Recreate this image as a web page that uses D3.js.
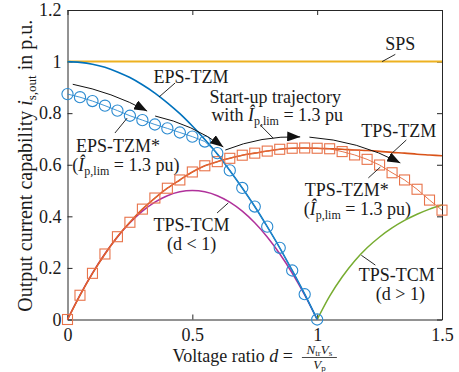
<!DOCTYPE html>
<meta charset="utf-8">
<style>

body {
  margin: 0;
  background: #fff;
}

.chart text {
  font-family: "Liberation Serif", "DejaVu Serif", serif;
  font-size: 18px;
  fill: #1a1a1a;
}

.chart .axis path,
.chart .axis line {
  stroke: #262626;
}

.chart .lead {
  stroke: #111;
  stroke-width: 0.9;
}

</style>
<svg class="chart" width="459" height="372"></svg>
<script src="https://cdn.jsdelivr.net/npm/d3@7/dist/d3.min.js" charset="utf-8"></script>
<script>

// voltage ratio d, grid below and above 1
let dLow = [0, 0.05, 0.1, 0.15, 0.2, 0.25, 0.3, 0.35, 0.4, 0.45, 0.5,
            0.55, 0.6, 0.65, 0.7, 0.75, 0.8, 0.85, 0.9, 0.95, 1];
let dHigh = [1, 1.05, 1.1, 1.15, 1.2, 1.25, 1.3, 1.35, 1.4, 1.45, 1.5];
let dFull = [0, 0.05, 0.1, 0.15, 0.2, 0.25, 0.3, 0.35, 0.4, 0.45, 0.5,
             0.55, 0.6, 0.65, 0.7, 0.75, 0.8, 0.85, 0.9, 0.95, 1,
             1.05, 1.1, 1.15, 1.2, 1.25, 1.3, 1.35, 1.4, 1.45, 1.5];
let dSps = [0, 1.5];

// output current capability in p.u.
let sps = [1, 1];
let epsTzm = [1, 0.997, 0.99, 0.978, 0.96, 0.938, 0.91, 0.878, 0.84, 0.798, 0.75,
              0.698, 0.642, 0.578, 0.51, 0.438, 0.36, 0.278, 0.19, 0.098, 0];
let epsTzmStar = [0.874, 0.862, 0.847, 0.829, 0.81, 0.79, 0.773, 0.756, 0.741, 0.725, 0.709,
                  0.69, 0.645, 0.578, 0.51, 0.438, 0.36, 0.278, 0.19, 0.098, 0];
let tcmBelow = [0, 0.095, 0.18, 0.255, 0.32, 0.375, 0.42, 0.455, 0.48, 0.495, 0.5,
                0.495, 0.48, 0.455, 0.42, 0.375, 0.32, 0.255, 0.18, 0.095, 0];
let tcmAbove = [0, 0.091, 0.165, 0.227, 0.278, 0.32, 0.355, 0.384, 0.408, 0.428, 0.444];
let tpsTzm = [0, 0.094, 0.179, 0.254, 0.321, 0.377, 0.428, 0.471, 0.509, 0.541, 0.572,
              0.596, 0.612, 0.625, 0.637, 0.645, 0.653, 0.66, 0.664, 0.665, 0.664,
              0.662, 0.66, 0.657, 0.655, 0.652, 0.648, 0.645, 0.641, 0.638, 0.635];
let tpsTzmStar = [0, 0.094, 0.179, 0.254, 0.321, 0.377, 0.428, 0.471, 0.509, 0.541, 0.572,
                  0.596, 0.612, 0.625, 0.637, 0.645, 0.653, 0.66, 0.664, 0.665, 0.664,
                  0.662, 0.651, 0.638, 0.621, 0.599, 0.569, 0.541, 0.505, 0.463, 0.424];

let xTicks = [0, 0.5, 1, 1.5];
let yTicks = [0, 0.2, 0.4, 0.6, 0.8, 1, 1.2];

let margin = {top: 10, right: 17, bottom: 52.5, left: 67.5},
    width = 459 - margin.left - margin.right,
    height = 372 - margin.top - margin.bottom;

let x = d3.scaleLinear().domain([0, 1.5]).range([0, width]);
let y = d3.scaleLinear().domain([0, 1.2]).range([height, 0]);

let svg = d3.select(".chart");

svg.append("defs").append("marker")
    .attr("id", "head")
    .attr("viewBox", "0 0 10 10")
    .attr("refX", 10)
    .attr("refY", 5)
    .attr("markerWidth", 13)
    .attr("markerHeight", 10)
    .attr("markerUnits", "userSpaceOnUse")
    .attr("preserveAspectRatio", "none")
    .attr("orient", "auto")
  .append("path")
    .attr("d", "M0,0L10,5L0,10Z")
    .attr("fill", "#111");

let g = svg.append("g")
    .attr("transform", "translate(" + margin.left + "," + margin.top + ")");

// axes, ticks pointing inwards on all four sides
let fmt = d => String(d);

g.append("g").attr("class", "axis")
    .attr("transform", "translate(0," + height + ")")
    .call(d3.axisBottom(x).tickValues(xTicks).tickFormat(fmt)
      .tickSizeInner(-5).tickSizeOuter(0).tickPadding(9));
g.append("g").attr("class", "axis")
    .call(d3.axisTop(x).tickValues(xTicks).tickFormat("")
      .tickSizeInner(-5).tickSizeOuter(0));
g.append("g").attr("class", "axis")
    .call(d3.axisLeft(y).tickValues(yTicks).tickFormat(fmt)
      .tickSizeInner(-5).tickSizeOuter(0).tickPadding(6));
g.append("g").attr("class", "axis")
    .attr("transform", "translate(" + width + ",0)")
    .call(d3.axisRight(y).tickValues(yTicks).tickFormat("")
      .tickSizeInner(-5).tickSizeOuter(0));

g.selectAll(".axis").attr("font-family", null).attr("font-size", null);
g.selectAll(".axis text").attr("fill", null);

// series
let pairs = (xs, ys) => xs.map((d, i) => [d, ys[i]]);

let smooth = d3.line()
    .x(d => x(d[0]))
    .y(d => y(d[1]))
    .curve(d3.curveMonotoneX);

let straight = d3.line()
    .x(d => x(d[0]))
    .y(d => y(d[1]));

let plot = (data, color, w, line) => g.append("path")
    .datum(data)
    .attr("fill", "none")
    .attr("stroke", color)
    .attr("stroke-width", w)
    .attr("d", line || smooth);

plot(pairs(dSps, sps), "#EDB120", 2);
plot(pairs(dHigh, tcmAbove), "#77AC30", 1.5);
plot(pairs(dLow, tcmBelow), "#B0319B", 1.5);
plot(pairs(dFull, tpsTzm), "#D95319", 1.6);
plot(pairs(dLow, epsTzm), "#0072BD", 1.6);

let squares = pairs(dFull, tpsTzmStar);
plot(squares, "#E2683A", 0.9, straight);
g.selectAll(".sq")
    .data(squares)
  .enter().append("rect")
    .attr("class", "sq")
    .attr("x", d => x(d[0]) - 5)
    .attr("y", d => y(d[1]) - 5)
    .attr("width", 10)
    .attr("height", 10)
    .attr("fill", "none")
    .attr("stroke", "#E8734A")
    .attr("stroke-width", 1.1);

let circles = pairs(dLow, epsTzmStar);
plot(circles, "#2A8AD0", 0.9, straight);
g.selectAll(".ci")
    .data(circles)
  .enter().append("circle")
    .attr("class", "ci")
    .attr("cx", d => x(d[0]))
    .attr("cy", d => y(d[1]))
    .attr("r", 5.6)
    .attr("fill", "none")
    .attr("stroke", "#2A8AD0")
    .attr("stroke-width", 1.1);

// start-up trajectory arrows: start, control, tip (data units)
let arrows = [
  [[0.021, 0.912], [0.178, 0.882], [0.319, 0.808]],
  [[0.351, 0.789], [0.500, 0.757], [0.624, 0.669]],
  [[0.632, 0.657], [0.776, 0.713], [0.932, 0.708]],
  [[0.969, 0.707], [1.162, 0.694], [1.333, 0.607]]
];

g.selectAll(".arrow")
    .data(arrows)
  .enter().append("path")
    .attr("class", "arrow")
    .attr("fill", "none")
    .attr("stroke", "#111")
    .attr("stroke-width", 1)
    .attr("marker-end", "url(#head)")
    .attr("d", a => "M" + x(a[0][0]) + "," + y(a[0][1]) +
                    "Q" + x(a[1][0]) + "," + y(a[1][1]) +
                    " " + x(a[2][0]) + "," + y(a[2][1]));

// leader lines from labels to curves
let leaders = [
  [1.260, 1.000, 1.313, 1.028],
  [0.367, 0.863, 0.431, 0.917],
  [0.772, 0.754, 0.824, 0.703],
  [0.190, 0.723, 0.239, 0.781],
  [1.301, 0.646, 1.357, 0.696],
  [1.205, 0.549, 1.253, 0.591],
  [0.599, 0.413, 0.644, 0.452],
  [1.177, 0.249, 1.233, 0.211]
];

g.selectAll(".lead")
    .data(leaders)
  .enter().append("line")
    .attr("class", "lead")
    .attr("x1", d => x(d[0]))
    .attr("y1", d => y(d[1]))
    .attr("x2", d => x(d[2]))
    .attr("y2", d => y(d[3]));

// labels
let label = (d, v, parts) => {
  let t = g.append("text")
      .attr("x", x(d))
      .attr("y", y(v))
      .attr("text-anchor", "middle");
  parts.forEach(p => {
    let s = t.append("tspan").text(p.t);
    if (p.i) s.attr("font-style", "italic");
    if (p.sub) s.attr("font-size", "12px").attr("dy", 4);
    if (p.up) s.attr("dy", -4);
  });
  return t;
};

let limit = [{t: "("}, {t: "Î", i: true}, {t: "p,lim", sub: true}, {t: " = 1.3 pu)", up: true}];

label(1.333, 1.045, [{t: "SPS"}]);
label(0.495, 0.917, [{t: "EPS-TZM"}]);
label(0.832, 0.840, [{t: "Start-up trajectory"}]);
label(0.840, 0.770, [{t: "with "}, {t: "Î", i: true}, {t: "p,lim", sub: true}, {t: " = 1.3 pu", up: true}]);
label(0.202, 0.649, [{t: "EPS-TZM*"}]);
label(0.234, 0.576, limit);
label(1.327, 0.708, [{t: "TPS-TZM"}]);
label(1.119, 0.479, [{t: "TPS-TZM*"}]);
label(1.161, 0.405, limit);
label(0.497, 0.343, [{t: "TPS-TCM"}]);
label(0.497, 0.268, [{t: "(d < 1)"}]);
label(1.319, 0.149, [{t: "TPS-TCM"}]);
label(1.333, 0.074, [{t: "(d > 1)"}]);

// y axis title
let yt = svg.append("text")
    .attr("transform", "translate(32," + (margin.top + height / 2 + 1) + ") rotate(-90)")
    .attr("text-anchor", "middle")
    .style("font-size", "20px");
yt.append("tspan").text("Output current capability ");
yt.append("tspan").text("i").attr("font-style", "italic");
yt.append("tspan").text("s,out").attr("font-size", "13px").attr("dy", 4);
yt.append("tspan").text(" in p.u.").attr("dy", -4);

// x axis title with fraction
let xt = svg.append("text").attr("y", 362);
xt.append("tspan").text("Voltage ratio ");
xt.append("tspan").text("d").attr("font-style", "italic");
xt.append("tspan").text(" =");
let w1 = xt.node().getComputedTextLength(),
    fracW = 35,
    gap = 9,
    x0 = margin.left + width / 2 - (w1 + gap + fracW) / 2;
xt.attr("x", x0);

let fx = x0 + w1 + gap;
svg.append("line")
    .attr("x1", fx).attr("x2", fx + fracW)
    .attr("y1", 357.5).attr("y2", 357.5)
    .attr("stroke", "#1a1a1a").attr("stroke-width", 0.8);

let num = svg.append("text")
    .attr("x", fx + fracW / 2).attr("y", 354)
    .attr("text-anchor", "middle")
    .style("font-size", "13px");
num.append("tspan").text("N").attr("font-style", "italic");
num.append("tspan").text("tr").attr("font-size", "9px").attr("dy", 2);
num.append("tspan").text("V").attr("font-style", "italic").attr("dy", -2);
num.append("tspan").text("s").attr("font-size", "9px").attr("dy", 2);

let den = svg.append("text")
    .attr("x", fx + fracW / 2).attr("y", 369)
    .attr("text-anchor", "middle")
    .style("font-size", "13px");
den.append("tspan").text("V").attr("font-style", "italic");
den.append("tspan").text("p").attr("font-size", "9px").attr("dy", 2);

</script>
